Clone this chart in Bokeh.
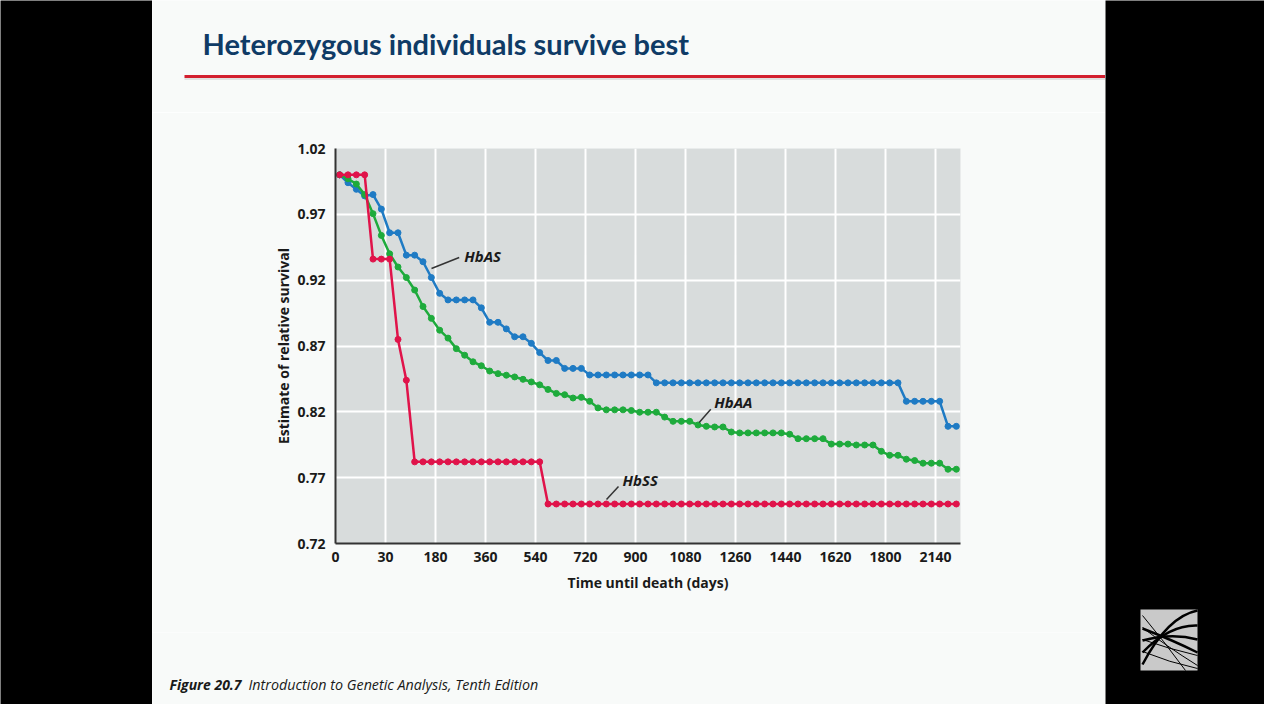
from bokeh.plotting import figure
from bokeh.layouts import row, column
from bokeh.models import Range1d, FixedTicker, PrintfTickFormatter
from bokeh.core.properties import value
from bokeh.embed import file_html
from bokeh.resources import INLINE

# ---------------- data ----------------
tick_labels = ["0", "30", "180", "360", "540", "720", "900", "1080",
               "1260", "1440", "1620", "1800", "2140"]
y_ticks = [0.72, 0.77, 0.82, 0.87, 0.92, 0.97, 1.02]

# estimates are sampled six times per labelled tick interval (75 samples)
samples_per_tick = 6
n_samples = 75
sample_pos = [(k + 0.5) / samples_per_tick for k in range(n_samples)]

hbss = [1.000, 1.000, 1.000, 1.000, 0.936, 0.936, 0.936, 0.875, 0.844, 0.782,
        0.782, 0.782, 0.782, 0.782, 0.782, 0.782, 0.782, 0.782, 0.782, 0.782,
        0.782, 0.782, 0.782, 0.782, 0.782, 0.750, 0.750, 0.750, 0.750, 0.750,
        0.750, 0.750, 0.750, 0.750, 0.750, 0.750, 0.750, 0.750, 0.750, 0.750,
        0.750, 0.750, 0.750, 0.750, 0.750, 0.750, 0.750, 0.750, 0.750, 0.750,
        0.750, 0.750, 0.750, 0.750, 0.750, 0.750, 0.750, 0.750, 0.750, 0.750,
        0.750, 0.750, 0.750, 0.750, 0.750, 0.750, 0.750, 0.750, 0.750, 0.750,
        0.750, 0.750, 0.750, 0.750, 0.750]

hbas = [1.000, 0.994, 0.989, 0.984, 0.985, 0.974, 0.956, 0.956, 0.939, 0.939,
        0.934, 0.922, 0.910, 0.905, 0.905, 0.905, 0.905, 0.899, 0.888, 0.888,
        0.883, 0.877, 0.877, 0.872, 0.865, 0.859, 0.859, 0.853, 0.853, 0.853,
        0.848, 0.848, 0.848, 0.848, 0.848, 0.848, 0.848, 0.848, 0.842, 0.842,
        0.842, 0.842, 0.842, 0.842, 0.842, 0.842, 0.842, 0.842, 0.842, 0.842,
        0.842, 0.842, 0.842, 0.842, 0.842, 0.842, 0.842, 0.842, 0.842, 0.842,
        0.842, 0.842, 0.842, 0.842, 0.842, 0.842, 0.842, 0.842, 0.828, 0.828,
        0.828, 0.828, 0.828, 0.809, 0.809]

hbaa = [1.000, 0.997, 0.993, 0.985, 0.9705, 0.954, 0.940, 0.930, 0.922, 0.9125,
        0.900, 0.891, 0.882, 0.876, 0.868, 0.863, 0.858, 0.855, 0.851, 0.849,
        0.8478, 0.8465, 0.8447, 0.8427, 0.8405, 0.837, 0.834, 0.833, 0.8305, 0.831,
        0.828, 0.823, 0.8215, 0.8215, 0.8215, 0.821, 0.8197, 0.8197, 0.8197, 0.816,
        0.8128, 0.8128, 0.8128, 0.810, 0.809, 0.8085, 0.8085, 0.8047, 0.804, 0.804,
        0.804, 0.804, 0.804, 0.804, 0.803, 0.7996, 0.7996, 0.7996, 0.7996, 0.7955,
        0.7955, 0.7955, 0.7948, 0.7948, 0.7948, 0.790, 0.787, 0.787, 0.784, 0.783,
        0.781, 0.781, 0.781, 0.7764, 0.7764]

series_names = ["HbAS", "HbAA", "HbSS"]
series_colors = ["#1f7bc4", "#1eab3c", "#e0134a"]

# ---------------- styling ----------------
SLIDE = "#f8faf9"
FONT = "Open Sans"


def blank(w, h, bg):
    f = figure(width=w, height=h, x_range=Range1d(0, w), y_range=Range1d(h, 0),
               x_axis_location=None, y_axis_location=None, toolbar_location=None,
               output_backend="svg", min_border=0, frame_align=False)
    f.grid.visible = False
    f.outline_line_color = None
    f.background_fill_color = bg
    f.border_fill_color = bg
    return f


# left black strip
left = blank(152, 704, "#000000")

# title block
top = blank(953, 112, SLIDE)
top.text(x=[50], y=[43], text=["Heterozygous individuals survive best"],
         text_font=value("Lato"), text_font_style="bold", text_font_size="29px",
         text_color="#0f3b66", text_baseline="alphabetic", text_align="left")
top.segment(x0=[32], y0=[76], x1=[953], y1=[76], line_color="#d31f2f", line_width=3)
top.segment(x0=[32], y0=[78.5], x1=[953], y1=[78.5], line_color="#9a9a9a", line_width=1, line_alpha=0.5)

# chart
p = figure(width=953, height=520, x_range=Range1d(0, 12.5), y_range=Range1d(0.72, 1.02),
           toolbar_location=None, output_backend="svg", frame_align=False,
           min_border_left=183, min_border_right=145, min_border_top=36, min_border_bottom=89)
p.background_fill_color = "#d8dcdc"
p.border_fill_color = SLIDE
p.outline_line_color = None

p.xaxis.ticker = FixedTicker(ticks=list(range(len(tick_labels))))
p.xaxis.major_label_overrides = {i: lab for i, lab in enumerate(tick_labels)}
p.yaxis.ticker = FixedTicker(ticks=y_ticks)
p.yaxis.formatter = PrintfTickFormatter(format="%.2f")
p.xgrid.ticker = FixedTicker(ticks=list(range(len(tick_labels))))
p.ygrid.ticker = FixedTicker(ticks=y_ticks)

p.grid.grid_line_color = "white"
p.grid.grid_line_width = 2
p.grid.grid_line_alpha = 1

for ax in (p.xaxis, p.yaxis):
    ax.axis_line_color = "#333333"
    ax.axis_line_width = 2
    ax.major_tick_line_color = None
    ax.minor_tick_line_color = None
    ax.major_label_text_font = FONT
    ax.major_label_text_font_style = "bold"
    ax.major_label_text_font_size = "14px"
    ax.major_label_text_color = "#1a1a1a"
    ax.axis_label_text_font = FONT
    ax.axis_label_text_font_style = "bold"
    ax.axis_label_text_font_size = "14px"
    ax.axis_label_text_color = "#1a1a1a"

p.xaxis.major_label_standoff = 2
p.yaxis.major_label_standoff = 4
p.xaxis.axis_label = "Time until death (days)"
p.yaxis.axis_label = "Estimate of relative survival"
p.xaxis.axis_label_standoff = 8
p.yaxis.axis_label_standoff = 1

for vals, col in zip([hbas, hbaa, hbss], series_colors):
    p.line(sample_pos, vals, line_color=col, line_width=2.5)
    p.scatter(sample_pos, vals, size=6, fill_color=col, line_color=col)

# callouts
p.segment(x0=[1.92, 7.274, 5.42], y0=[0.9289, 0.8119, 0.7534],
          x1=[2.474, 7.506, 5.66], y1=[0.9372, 0.822, 0.7633],
          line_color="#333333", line_width=1.5)
p.text(x=[2.575, 7.574, 5.74], y=[0.9387, 0.8271, 0.7682], text=series_names,
       text_font=value(FONT), text_font_style="bold italic", text_font_size="15px",
       text_color="#1a1a1a", text_baseline="middle", text_align="left")

# caption
cap = blank(953, 72, SLIDE)
cap.text(x=[17], y=[52], text=["Figure 20.7"], text_font=value(FONT),
         text_font_style="bold italic", text_font_size="14px", text_color="#1a1a1a",
         text_baseline="alphabetic", text_align="left")
cap.text(x=[96], y=[52], text=["Introduction to Genetic Analysis, Tenth Edition"],
         text_font=value(FONT), text_font_style="italic", text_font_size="14.3px",
         text_color="#1a1a1a", text_baseline="alphabetic", text_align="left")

# right black strip with logo
right = blank(159, 704, "#000000")
right.quad(left=[35], right=[92], top=[609], bottom=[670], fill_color="#c9c9c9", line_color=None)
# thick arcs (lower-left to upper-right)
right.quadratic(x0=[37, 37, 37, 37], y0=[664, 652, 640, 628],
                x1=[92, 92, 92, 92], y1=[610, 625, 639, 652],
                cx=[62, 64, 66, 68], cy=[616, 624, 632, 640],
                line_color="black", line_width=2.5)
# thin arcs (upper-left to lower-right)
right.quadratic(x0=[37, 37, 37, 37], y0=[615, 627, 639, 651],
                x1=[80, 92, 92, 92], y1=[670, 665, 655, 668],
                cx=[58, 60, 62, 64], cy=[640, 645, 648, 662],
                line_color="black", line_width=1)

layout = row(left, column(top, p, cap), right)
open("out.html", "w").write(file_html(layout, INLINE))
